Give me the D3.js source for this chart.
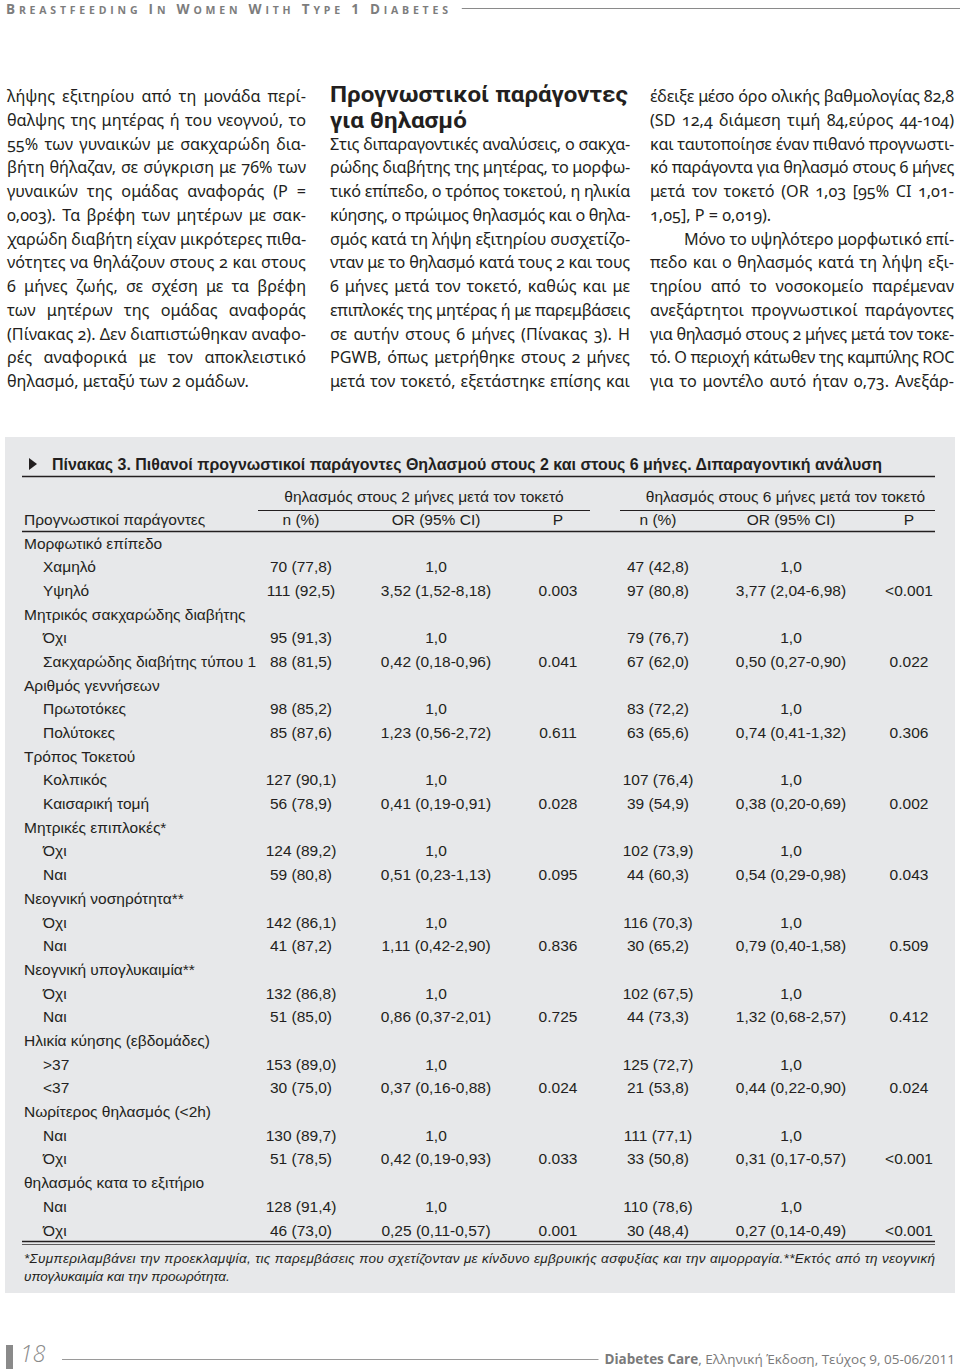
<!DOCTYPE html>
<html><head><meta charset="utf-8">
<script src="https://cdn.jsdelivr.net/npm/d3@7"></script>
<style>body{margin:0;background:#fff}svg{display:block}</style>
</head><body>
<script>
// ---------- DATA ----------
const runningHead = ["Breastfeeding","in","Women","with","Type","1","Diabetes"];
const col1Lines = [
"λήψης εξιτηρίου από τη μονάδα περί-",
"θαλψης της μητέρας ή του νεογνού, το",
"55% των γυναικών με σακχαρώδη δια-",
"βήτη θήλαζαν, σε σύγκριση με 76% των",
"γυναικών της ομάδας αναφοράς (P =",
"0,003). Τα βρέφη των μητέρων με σακ-",
"χαρώδη διαβήτη είχαν μικρότερες πιθα-",
"νότητες να θηλάζουν στους 2 και στους",
"6 μήνες ζωής, σε σχέση με τα βρέφη",
"των μητέρων της ομάδας αναφοράς",
"(Πίνακας 2). Δεν διαπιστώθηκαν αναφο-",
"ρές αναφορικά με τον αποκλειστικό",
"θηλασμό, μεταξύ των 2 ομάδων."];
const col2Heading = ["Προγνωστικοί παράγοντες","για θηλασμό"];
const col2Lines = [
"Στις διπαραγοντικές αναλύσεις, ο σακχα-",
"ρώδης διαβήτης της μητέρας, το μορφω-",
"τικό επίπεδο, ο τρόπος τοκετού, η ηλικία",
"κύησης, ο πρώιμος θηλασμός και ο θηλα-",
"σμός κατά τη λήψη εξιτηρίου συσχετίζο-",
"νταν με το θηλασμό κατά τους 2 και τους",
"6 μήνες μετά τον τοκετό, καθώς και με",
"επιπλοκές της μητέρας ή με παρεμβάσεις",
"σε αυτήν στους 6 μήνες (Πίνακας 3). Η",
"PGWB, όπως μετρήθηκε στους 2 μήνες",
"μετά τον τοκετό, εξετάστηκε επίσης και"];
const col3Lines = [
"έδειξε μέσο όρο ολικής βαθμολογίας 82,8",
"(SD 12,4 διάμεση τιμή 84,εύρος 44-104)",
"και ταυτοποίησε έναν πιθανό προγνωστι-",
"κό παράγοντα για θηλασμό στους 6 μήνες",
"μετά τον τοκετό (OR 1,03 [95% CI 1,01-",
"1,05], P = 0,019).",
"Μόνο το υψηλότερο μορφωτικό επί-",
"πεδο και ο θηλασμός κατά τη λήψη εξι-",
"τηρίου από το νοσοκομείο παρέμεναν",
"ανεξάρτητοι προγνωστικοί παράγοντες",
"για θηλασμό στους 2 μήνες μετά τον τοκε-",
"τό. Ο περιοχή κάτωθεν της καμπύλης ROC",
"για το μοντέλο αυτό ήταν 0,73. Ανεξάρ-"];
const col3ParaEnd = [5];
const col3Indent = [6];

const tableTitle = "Πίνακας 3. Πιθανοί προγνωστικοί παράγοντες Θηλασμού στους 2 και στους 6 μήνες. Διπαραγοντική ανάλυση";
const groupHeaders = ["θηλασμός στους 2 μήνες μετά τον τοκετό","θηλασμός στους 6 μήνες μετά τον τοκετό"];
const columnKeys = ["n2","or2","p2","n6","or6","p6"];
const columnHeaders = ["n (%)","OR (95% CI)","P","n (%)","OR (95% CI)","P"];
const factorHeader = "Προγνωστικοί παράγοντες";

const factorLabels = ["Μορφωτικό επίπεδο","Χαμηλό","Υψηλό","Μητρικός σακχαρώδης διαβήτης","Όχι","Σακχαρώδης διαβήτης τύπου 1","Αριθμός γεννήσεων","Πρωτοτόκες","Πολύτοκες","Τρόπος Τοκετού","Κολπικός","Καισαρική τομή","Μητρικές επιπλοκές*","Όχι","Ναι","Νεογνική νοσηρότητα**","Όχι","Ναι","Νεογνική υπογλυκαιμία**","Όχι","Ναι","Ηλικία κύησης (εβδομάδες)",">37","<37","Νωρίτερος θηλασμός (<2h)","Ναι","Όχι","θηλασμός κατα το εξιτήριο","Ναι","Όχι"];
const factorLevels = [0,1,1,0,1,1,0,1,1,0,1,1,0,1,1,0,1,1,0,1,1,0,1,1,0,1,1,0,1,1];
const n2m  = ["","70 (77,8)","111 (92,5)","","95 (91,3)","88 (81,5)","","98 (85,2)","85 (87,6)","","127 (90,1)","56 (78,9)","","124 (89,2)","59 (80,8)","","142 (86,1)","41 (87,2)","","132 (86,8)","51 (85,0)","","153 (89,0)","30 (75,0)","","130 (89,7)","51 (78,5)","","128 (91,4)","46 (73,0)"];
const or2m = ["","1,0","3,52 (1,52-8,18)","","1,0","0,42 (0,18-0,96)","","1,0","1,23 (0,56-2,72)","","1,0","0,41 (0,19-0,91)","","1,0","0,51 (0,23-1,13)","","1,0","1,11 (0,42-2,90)","","1,0","0,86 (0,37-2,01)","","1,0","0,37 (0,16-0,88)","","1,0","0,42 (0,19-0,93)","","1,0","0,25 (0,11-0,57)"];
const p2m  = ["","","0.003","","","0.041","","","0.611","","","0.028","","","0.095","","","0.836","","","0.725","","","0.024","","","0.033","","","0.001"];
const n6m  = ["","47 (42,8)","97 (80,8)","","79 (76,7)","67 (62,0)","","83 (72,2)","63 (65,6)","","107 (76,4)","39 (54,9)","","102 (73,9)","44 (60,3)","","116 (70,3)","30 (65,2)","","102 (67,5)","44 (73,3)","","125 (72,7)","21 (53,8)","","111 (77,1)","33 (50,8)","","110 (78,6)","30 (48,4)"];
const or6m = ["","1,0","3,77 (2,04-6,98)","","1,0","0,50 (0,27-0,90)","","1,0","0,74 (0,41-1,32)","","1,0","0,38 (0,20-0,69)","","1,0","0,54 (0,29-0,98)","","1,0","0,79 (0,40-1,58)","","1,0","1,32 (0,68-2,57)","","1,0","0,44 (0,22-0,90)","","1,0","0,31 (0,17-0,57)","","1,0","0,27 (0,14-0,49)"];
const p6m  = ["","","<0.001","","","0.022","","","0.306","","","0.002","","","0.043","","","0.509","","","0.412","","","0.024","","","<0.001","","","<0.001"];
const footnotes = ["*Συμπεριλαμβάνει την προεκλαμψία, τις παρεμβάσεις που σχετίζονταν με κίνδυνο εμβρυικής ασφυξίας και την αιμορραγία.**Εκτός από τη νεογνική","υπογλυκαιμία και την προωρότητα."];
const pageNumber = "18";
const journalName = "Diabetes Care";
const journalRest = ", Ελληνική Έκδοση, Τεύχος 9, 05-06/2011";

// ---------- DRAW ----------
const W = 960, H = 1369;
const svg = d3.select("body").append("svg").attr("width", W).attr("height", H);
svg.append("rect").attr("width", W).attr("height", H).attr("fill", "#fff");

const ink = "#231f20", grey = "#7d7d7d";

// running head (small caps)
const rh = svg.append("text").attr("x", 6).attr("y", 14)
  .attr("font-family", "Open Sans, sans-serif").attr("font-weight", 700)
  .attr("fill", grey).attr("letter-spacing", 3.8);
runningHead.forEach((w, i) => {
  const word = (i ? " " : "") + w;
  const first = i ? word.slice(0, 2) : word.slice(0, 1);
  const rest = i ? word.slice(2) : word.slice(1);
  rh.append("tspan").attr("font-size", 13.5).text(first.toUpperCase());
  rh.append("tspan").attr("font-size", 10.5).text(rest.toUpperCase());
});
const rhEnd = 6 + rh.node().getComputedTextLength();
svg.append("line").attr("x1", rhEnd + 10).attr("x2", W).attr("y1", 8.5).attr("y2", 8.5)
  .attr("stroke", "#8a8a8a").attr("stroke-width", 1);

// body columns
const lineH = 23.75, firstY = 96;
const lineY = d3.scaleLinear().domain([0, 1]).range([firstY, firstY + lineH]);
const bodyFont = "Noto Sans, sans-serif", bodySize = 16.2;

function drawColumn(lines, x0, x1, startIdx, paraEnds, indents, justifyLast) {
  const g = svg.append("g").attr("font-family", bodyFont).attr("font-size", bodySize)
    .attr("fill", ink).style("font-variant-numeric", "oldstyle-nums");
  lines.forEach((s, i) => {
    const ind = indents.includes(i) ? 34 : 0;
    const t = g.append("text").attr("x", x0 + ind).attr("y", lineY(startIdx + i) + 6).text(s);
    const isLast = (i === lines.length - 1 && !justifyLast) || paraEnds.includes(i);
    const nat = t.node().getComputedTextLength();
    const target = x1 - x0 - ind;
    if (nat > target) {
      t.attr("letter-spacing", (target - nat) / s.length);
    } else if (!isLast) {
      const spaces = (s.match(/ /g) || []).length;
      if (spaces > 0) t.attr("word-spacing", (target - nat) / spaces);
    }
  });
}
drawColumn(col1Lines, 7, 306, 0, [], [], false);

// col2 heading: two lines, horizontally condensed
const hWrap = svg.append("g").attr("transform", "translate(330,0)");
const hSize = 22.5;
const h1 = hWrap.append("text").attr("font-family", "Roboto, sans-serif").attr("font-weight", 700)
  .attr("fill", ink).attr("font-size", hSize).attr("y", 102).text(col2Heading[0]);
const l1w = h1.node().getComputedTextLength();
const sx = 298 / l1w;
h1.attr("transform", `scale(${sx},1)`);
hWrap.append("text").attr("font-family", "Roboto, sans-serif").attr("font-weight", 700)
  .attr("fill", ink).attr("font-size", hSize).attr("y", 128).attr("transform", `scale(${sx},1)`)
  .text(col2Heading[1]);

drawColumn(col2Lines, 330, 630, 2, [], [], true);
drawColumn(col3Lines, 650, 954, 0, col3ParaEnd, col3Indent, true);

// table box
const box = {x: 5, y: 437, w: 950, h: 856};
svg.append("rect").attr("x", box.x).attr("y", box.y).attr("width", box.w).attr("height", box.h)
  .attr("fill", "#e7e8ea");

const tL = 24, tR = 935;
const tFont = "Liberation Sans, Arial, sans-serif", tSize = 15.5;

// title
svg.append("path").attr("d", "M29,458 L37,464 L29,470 Z").attr("fill", ink);
svg.append("text").attr("x", 52).attr("y", 470).attr("font-family", tFont).attr("font-weight", 700)
  .attr("font-size", 17).attr("fill", ink).attr("textLength", 830).attr("lengthAdjust", "spacingAndGlyphs")
  .text(tableTitle);
svg.append("line").attr("x1", tL - 2).attr("x2", tR).attr("y1", 476.5).attr("y2", 476.5)
  .attr("stroke", ink).attr("stroke-width", 1.5);

// column positions
const colX = d3.scaleOrdinal().domain(columnKeys).range([301, 436, 558, 658, 791, 909]);
const groupSpan = [[258, 590], [620, tR]];

const tg = svg.append("g").attr("font-family", tFont).attr("font-size", tSize).attr("fill", ink);
groupHeaders.forEach((s, i) => {
  const [a, b] = groupSpan[i];
  tg.append("text").attr("x", (a + b) / 2 + (i ? 8 : 0)).attr("y", 502).attr("text-anchor", "middle").text(s);
  svg.append("line").attr("x1", a).attr("x2", b).attr("y1", 510.5).attr("y2", 510.5)
    .attr("stroke", ink).attr("stroke-width", 1);
});
tg.append("text").attr("x", tL).attr("y", 525).text(factorHeader);
columnKeys.forEach((k, i) => {
  tg.append("text").attr("x", colX(k)).attr("y", 525).attr("text-anchor", "middle").text(columnHeaders[i]);
});
svg.append("line").attr("x1", tL - 2).attr("x2", tR).attr("y1", 531.5).attr("y2", 531.5)
  .attr("stroke", ink).attr("stroke-width", 1.3);

// rows
const rowY = d3.scaleLinear().domain([0, factorLabels.length - 1]).range([543, 1230]);
const cols = {n2: n2m, or2: or2m, p2: p2m, n6: n6m, or6: or6m, p6: p6m};
const rows = tg.selectAll("g.row").data(factorLabels).join("g").attr("class", "row")
  .attr("transform", (d, i) => `translate(0,${rowY(i) + 5.5})`);
rows.append("text").attr("x", (d, i) => factorLevels[i] ? 43 : tL).text(d => d);
columnKeys.forEach(k => {
  rows.append("text").attr("x", colX(k)).attr("text-anchor", "middle").text((d, i) => cols[k][i]);
});
svg.append("line").attr("x1", tL - 2).attr("x2", tR).attr("y1", 1241.5).attr("y2", 1241.5)
  .attr("stroke", ink).attr("stroke-width", 1.6);
svg.append("line").attr("x1", tL - 2).attr("x2", tR).attr("y1", 1244.5).attr("y2", 1244.5)
  .attr("stroke", ink).attr("stroke-width", 0.7);

// footnotes
const fg = svg.append("g").attr("font-family", tFont).attr("font-style", "italic")
  .attr("font-size", 13.5).attr("fill", ink);
fg.append("text").attr("x", tL).attr("y", 1263).attr("textLength", tR - tL)
  .attr("lengthAdjust", "spacing").text(footnotes[0]);
fg.append("text").attr("x", tL).attr("y", 1281).text(footnotes[1]);

// footer
svg.append("rect").attr("x", 6).attr("y", 1345).attr("width", 7).attr("height", 24).attr("fill", "#8a8a8a");
svg.append("text").attr("x", 20).attr("y", 1362).attr("font-family", "Open Sans, sans-serif")
  .attr("font-style", "italic").attr("font-weight", 300).attr("font-size", 23).attr("fill", "#8a8a8a")
  .text(pageNumber);
const ft = svg.append("text").attr("x", 955).attr("y", 1364).attr("text-anchor", "end")
  .attr("font-family", "Open Sans, sans-serif").attr("font-size", 13.5).attr("fill", "#7a7a7a");
ft.append("tspan").attr("font-weight", 700).text(journalName);
ft.append("tspan").text(journalRest);
const ftStart = 955 - ft.node().getComputedTextLength();
svg.append("line").attr("x1", 62).attr("x2", ftStart - 6).attr("y1", 1359.5).attr("y2", 1359.5)
  .attr("stroke", "#9a9a9a").attr("stroke-width", 1);
</script>
</body></html>
